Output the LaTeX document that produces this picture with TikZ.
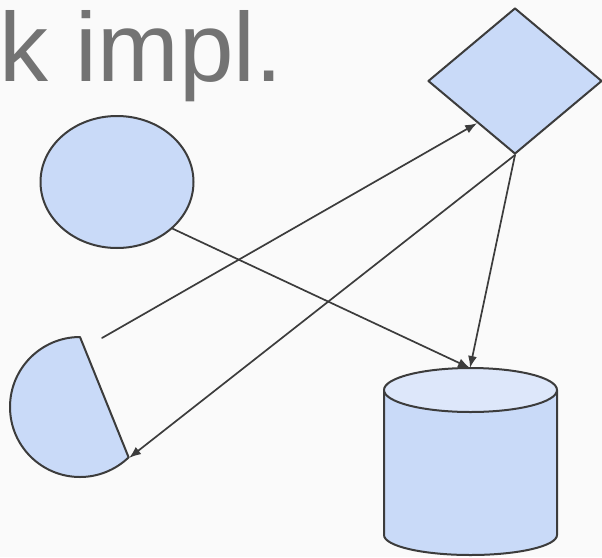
\documentclass[tikz,border=0pt]{standalone}
\usepackage{fontspec}
\setmainfont{Liberation Sans}
\usetikzlibrary{shapes.geometric,arrows.meta,calc}
\definecolor{bg}{HTML}{FAFAFA}
\definecolor{ink}{HTML}{3C3C3C}
\definecolor{boxfill}{HTML}{C9DAF8}
\definecolor{lidfill}{HTML}{DDE7FA}
\definecolor{titlegray}{HTML}{737373}
\tikzset{
  shapebox/.style={draw=ink, fill=boxfill, line width=2pt, inner sep=0pt},
  link/.style={draw=ink, line width=1.7pt, -{Latex[length=12pt,width=9pt]}}
}
\begin{document}
\begin{tikzpicture}[x=1pt, y=-1pt, line cap=round, line join=round]
  \fill[bg] (0,0) rectangle (602,557);
  \useasboundingbox (0,0) rectangle (602,557);
  \node[anchor=base west, inner sep=0pt, text height=72pt, text depth=18pt, text=titlegray, font=\fontsize{98}{98}\selectfont] (title) at (-0.5,81) {k impl.};
  \node[shapebox, ellipse, minimum width=153pt, minimum height=132pt] (blob) at (117,182) {};
  \node[shapebox, diamond, minimum width=174pt, minimum height=146pt] (gate) at (515,81) {};
  % half disc
  \coordinate (semitop) at (80,337);
  \coordinate (semilow) at (129,458);
  \draw[shapebox] (semitop) arc[start angle=-90, end angle=-314, radius=70] -- cycle;
  % cylinder
  \coordinate (dbtop) at (470,368);
  \fill[boxfill] (384,390) -- (384,535) arc[start angle=180, end angle=0, x radius=86.5, y radius=20] -- (557,390) -- cycle;
  \draw[ink, line width=2pt] (384,390) -- (384,535) arc[start angle=180, end angle=0, x radius=86.5, y radius=20] -- (557,390);
  \draw[ink, fill=lidfill, line width=2pt] (470.5,390) ellipse[x radius=86.5, y radius=22];
  % connectors
  \coordinate (loose) at (102,338);
  \draw[link] (loose) -- ($(gate.west)!0.57!(gate.south)$);
  \draw[link] (blob.-40) -- (dbtop);
  \draw[link] (gate.south) -- (dbtop);
  \draw[link] (gate.south) -- (semilow);
\end{tikzpicture}
\end{document}
